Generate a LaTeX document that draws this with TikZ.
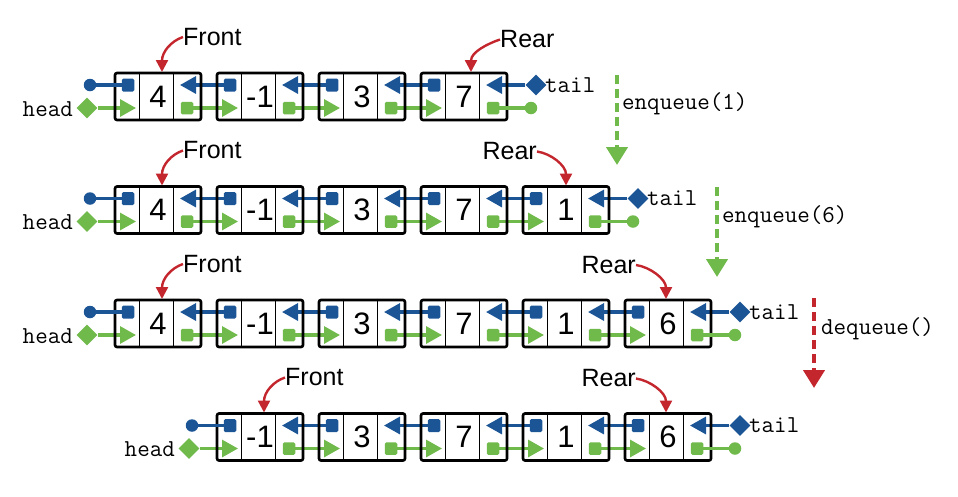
\documentclass[tikz,border=0pt]{standalone}
\usepackage{fontspec}
\setmainfont{Liberation Sans}
\usetikzlibrary{arrows.meta,shapes.geometric,calc}
\definecolor{qblue}{HTML}{1B5596}
\definecolor{qgreen}{HTML}{70B94B}
\definecolor{qred}{HTML}{C4262E}
\pgfdeclarelayer{bg}
\pgfsetlayers{bg,main}
\begin{document}
\begin{tikzpicture}[x=1pt,y=-1pt,
 cellbox/.style={draw=black, line width=2.6pt, rounded corners=2pt, minimum width=86pt, minimum height=47pt, inner sep=0pt, font=\fontsize{31}{31}\selectfont},
 divider/.style={draw=black, line width=1.3pt},
 bsq/.style={fill=qblue, rounded corners=1.5pt, minimum width=12.5pt, minimum height=13pt, inner sep=0pt},
 gsq/.style={fill=qgreen, rounded corners=1.5pt, minimum size=12.5pt, inner sep=0pt},
 bdot/.style={circle, fill=qblue, minimum size=12.5pt, inner sep=0pt},
 gdot/.style={circle, fill=qgreen, minimum size=12.5pt, inner sep=0pt},
 bdia/.style={diamond, fill=qblue, minimum size=21pt, inner sep=0pt},
 gdia/.style={diamond, fill=qgreen, minimum size=21pt, inner sep=0pt},
 bline/.style={draw=qblue, line width=3.2pt},
 gline/.style={draw=qgreen, line width=3.2pt},
 btip/.style={bline, -{Triangle[length=16pt 0 0,width=17pt 0 0]}},
 gtip/.style={gline, -{Triangle[length=16pt 0 0,width=17pt 0 0]}},
 mono/.style={font=\ttfamily\fontsize{24.3}{24.3}\selectfont, inner sep=0pt},
 lbl/.style={font=\fontsize{25}{25}\selectfont, inner sep=0pt},
 redarr/.style={draw=qred, line width=2.4pt, -{Triangle[length=12pt 0 0,width=12pt 0 0]}},
 gdash/.style={draw=qgreen, line width=4.2pt, dash pattern=on 9pt off 5pt, -{Triangle[length=18pt 0 0,width=21pt 0 0]}},
 rdash/.style={draw=qred, line width=4.2pt, dash pattern=on 9pt off 5pt, -{Triangle[length=18pt 0 0,width=21pt 0 0]}},
]
\useasboundingbox (0,0) rectangle (958,496);
\foreach \r/\fst/\lst in {1/0/3,2/0/4,3/0/5,4/1/5}{
  \pgfmathsetmacro\tp{73+113.5*(\r-1)}
  \foreach \k/\v in {0/4,1/-1,2/3,3/7,4/1,5/6}{
    \ifnum\k<\fst\relax\else\ifnum\k>\lst\relax\else
      \pgfmathsetmacro\xo{115+102*\k}
      \node[cellbox] (c\r\k) at (\xo+43,\tp+23.5) {\v};
      \draw[divider] ([xshift=26pt]c\r\k.north west) -- ([xshift=26pt]c\r\k.south west);
      \draw[divider] ([xshift=60pt]c\r\k.north west) -- ([xshift=60pt]c\r\k.south west);
      \node[bsq] (bs\r\k) at (\xo+13,\tp+12) {};
      \node[gsq] (gs\r\k) at (\xo+72,\tp+35) {};
      \coordinate (gt\r\k) at (\xo+21,\tp+35);
      \coordinate (bt\r\k) at (\xo+65,\tp+12);
    \fi\fi
  }
  \pgfmathtruncatemacro\lstm{\lst-1}
  \begin{pgfonlayer}{bg}
  \foreach \k in {\fst,...,\lstm}{
    \pgfmathtruncatemacro\kn{\k+1}
    \draw[btip] (bs\r\kn) -- (bt\r\k);
    \draw[gtip] (gs\r\k) -- (gt\r\kn);
  }
  \end{pgfonlayer}
  \pgfmathsetmacro\xf{115+102*\fst}
  \pgfmathsetmacro\xl{115+102*\lst+86}
  \node[gdia] (hd\r) at (\xf-28,\tp+35) {};
  \node[mono, anchor=east] (hl\r) at (\xf-42,\tp+36) {head};
  \begin{pgfonlayer}{bg}
  \draw[gtip] (hd\r) -- (gt\r\fst);
  \end{pgfonlayer}
  \node[bdot] (bn\r) at (\xf-25,\tp+12) {};
  \draw[bline] (bs\r\fst) -- (bn\r);
  \node[bdia] (td\r) at (\xl+29,\tp+12) {};
  \node[mono, anchor=west] (tl\r) at (\xl+38,\tp+12) {tail};
  \begin{pgfonlayer}{bg}
  \draw[btip] (td\r) -- (bt\r\lst);
  \end{pgfonlayer}
  \node[gdot] (gn\r) at (\xl+24,\tp+35) {};
  \draw[gline] (gs\r\lst) -- (gn\r);
}
% Front labels
\node[lbl, anchor=west] (f1) at (183,37) {Front};
\coordinate (f1t) at (162,72);
\draw[redarr] (f1.west) .. controls +(-12,4) and +(0,-20) .. (f1t);
\node[lbl, anchor=west] (f2) at (183,150.5) {Front};
\coordinate (f2t) at (162,185.5);
\draw[redarr] (f2.west) .. controls +(-12,4) and +(0,-20) .. (f2t);
\node[lbl, anchor=west] (f3) at (183,264) {Front};
\coordinate (f3t) at (162,299);
\draw[redarr] (f3.west) .. controls +(-12,4) and +(0,-20) .. (f3t);
\node[lbl, anchor=west] (f4) at (285,377.5) {Front};
\coordinate (f4t) at (264,412.5);
\draw[redarr] (f4.west) .. controls +(-12,4) and +(0,-20) .. (f4t);
% Rear labels
\node[lbl, anchor=west] (r1) at (500,39.5) {Rear};
\coordinate (r1t) at (471,72);
\draw[redarr] (r1.west) .. controls +(-12,4) and +(0,-20) .. (r1t);
\node[lbl, anchor=east] (r2) at (537,151.5) {Rear};
\coordinate (r2t) at (566,185.5);
\draw[redarr] (r2.east) .. controls +(14,2) and +(0,-20) .. (r2t);
\node[lbl, anchor=east] (r3) at (636,265) {Rear};
\coordinate (r3t) at (666,299);
\draw[redarr] (r3.east) .. controls +(14,2) and +(0,-20) .. (r3t);
\node[lbl, anchor=east] (r4) at (636,378.5) {Rear};
\coordinate (r4t) at (666,412.5);
\draw[redarr] (r4.east) .. controls +(14,2) and +(0,-20) .. (r4t);
% operations
\coordinate (d1a) at (617,75);
\coordinate (d1b) at (617,165);
\draw[gdash] (d1a) -- (d1b);
\node[mono, anchor=west] (d1l) at (622,104) {enqueue(1)};
\coordinate (d2a) at (717,187);
\coordinate (d2b) at (717,277);
\draw[gdash] (d2a) -- (d2b);
\node[mono, anchor=west] (d2l) at (722,217) {enqueue(6)};
\coordinate (d3a) at (814,298);
\coordinate (d3b) at (814,388);
\draw[rdash] (d3a) -- (d3b);
\node[mono, anchor=west] (d3l) at (821,329) {dequeue()};
\end{tikzpicture}
\end{document}
